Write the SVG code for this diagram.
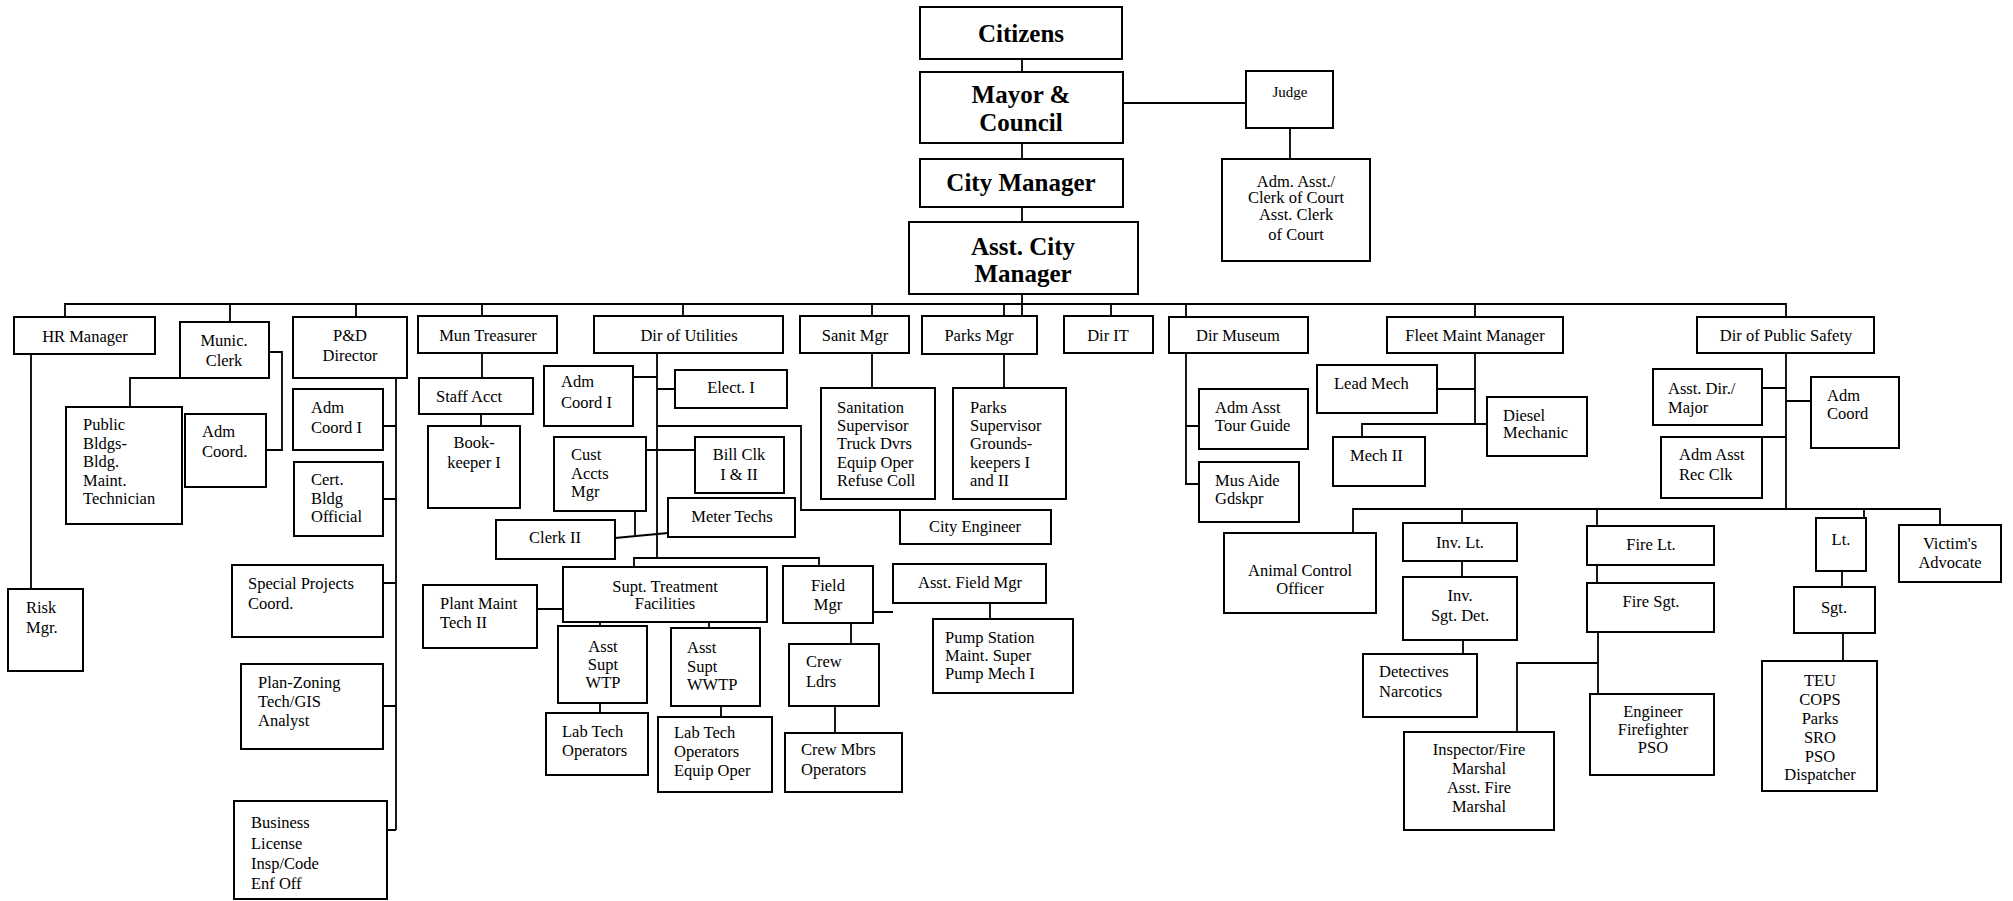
<svg xmlns="http://www.w3.org/2000/svg" width="2013" height="901" viewBox="0 0 2013 901">
<style>
rect{fill:#fff;stroke:#000;stroke-width:2}
text{font-family:"Liberation Serif","Times New Roman",serif;font-size:16.5px;fill:#000}
.c{text-anchor:middle}
.b{font-weight:bold;font-size:25px}
.s{font-size:15px}
#connectors path{fill:none;stroke:#000;stroke-width:1.8}
</style>
<rect x="0" y="0" width="2013" height="901" style="fill:#fff;stroke:none"/>
<g id="connectors">
<path d="M1022,59V72M1022,143V159M1022,207V222M1022,294V316M1123,103H1246M1290,128V159"/>
<path d="M65,317V304H1786V317M230,304V322M356,304V317M482,304V316M683,304V316M872,304V316M1004,304V316M1111,304V316M1186,304V317M1475,304V317"/>
<path d="M31,354V589M130,407V378H180M269,352H282V450H266"/>
<path d="M396,378V830M383,426H396M383,499H396M383,583H396M383,706H396M387,830H396"/>
<path d="M482,353V378M481,414V426"/>
<path d="M657,353V558M634,567V558H819V566M633,377H657M657,389H675M657,426H801V510H900M646,450H695M635,511V535M615,538L668,533"/>
<path d="M537,609H563M600,622V626M709,622V628M600,703V713M721,706V717"/>
<path d="M873,612H893M851,623V644M835,706V733M990,603V619"/>
<path d="M872,353V388M1004,354V388"/>
<path d="M1186,353V484H1199M1186,426H1199"/>
<path d="M1475,353V424M1437,389H1475M1362,437V424H1487"/>
<path d="M1786,353V509M1762,388H1786M1786,401H1811M1762,437H1786"/>
<path d="M1353,533V509H1940V525M1462,509V523M1597,509V526M1864,509V518"/>
<path d="M1462,561V577M1463,640V654M1597,565V583M1598,632V694M1598,663H1517V732"/>
<path d="M1842,571V587M1843,633V661"/>
</g>
<g id="citizens"><rect x="920" y="7" width="202" height="52"/><text class="c b" x="1021" y="42">Citizens</text></g>
<g id="mayor"><rect x="920" y="72" width="203" height="71"/><text class="c b" x="1021" y="103">Mayor &amp;</text><text class="c b" x="1021" y="131">Council</text></g>
<g id="citymanager"><rect x="920" y="159" width="203" height="48"/><text class="c b" x="1021" y="191">City Manager</text></g>
<g id="asstcitymanager"><rect x="909" y="222" width="229" height="72"/><text class="c b" x="1023" y="255">Asst. City</text><text class="c b" x="1023" y="282">Manager</text></g>
<g id="judge"><rect x="1246" y="71" width="87" height="57"/><text class="c s" x="1290" y="97">Judge</text></g>
<g id="clerkofcourt"><rect x="1222" y="159" width="148" height="102"/><text class="c" x="1296" y="187">Adm. Asst./</text><text class="c" x="1296" y="203">Clerk of Court</text><text class="c" x="1296" y="220">Asst. Clerk</text><text class="c" x="1296" y="240">of Court</text></g>
<g id="hr"><rect x="14" y="317" width="141" height="37"/><text class="c" x="85" y="342">HR Manager</text></g>
<g id="munic"><rect x="180" y="322" width="89" height="56"/><text class="c" x="224" y="346">Munic.</text><text class="c" x="224" y="366">Clerk</text></g>
<g id="pd"><rect x="293" y="317" width="114" height="61"/><text class="c" x="350" y="341">P&amp;D</text><text class="c" x="350" y="361">Director</text></g>
<g id="treasurer"><rect x="418" y="316" width="139" height="37"/><text class="c" x="488" y="341">Mun Treasurer</text></g>
<g id="utilities"><rect x="594" y="316" width="189" height="37"/><text class="c" x="689" y="341">Dir of Utilities</text></g>
<g id="sanit"><rect x="800" y="316" width="109" height="37"/><text class="c" x="855" y="341">Sanit Mgr</text></g>
<g id="parks"><rect x="922" y="316" width="115" height="38"/><text class="c" x="979" y="341">Parks Mgr</text></g>
<g id="dirit"><rect x="1064" y="316" width="89" height="37"/><text class="c" x="1108" y="341">Dir IT</text></g>
<g id="museum"><rect x="1169" y="317" width="139" height="36"/><text class="c" x="1238" y="341">Dir Museum</text></g>
<g id="fleet"><rect x="1387" y="317" width="176" height="36"/><text class="c" x="1475" y="341">Fleet Maint Manager</text></g>
<g id="publicsafety"><rect x="1697" y="317" width="177" height="36"/><text class="c" x="1786" y="341">Dir of Public Safety</text></g>
<g id="pubbldgs"><rect x="66" y="407" width="116" height="117"/><text x="83" y="430">Public</text><text x="83" y="449">Bldgs-</text><text x="83" y="467">Bldg.</text><text x="83" y="486">Maint.</text><text x="83" y="504">Technician</text></g>
<g id="municcoord"><rect x="185" y="414" width="81" height="73"/><text x="202" y="437">Adm</text><text x="202" y="457">Coord.</text></g>
<g id="pdcoord"><rect x="293" y="389" width="90" height="61"/><text x="311" y="413">Adm</text><text x="311" y="433">Coord I</text></g>
<g id="cert"><rect x="294" y="462" width="89" height="74"/><text x="311" y="485">Cert.</text><text x="311" y="504">Bldg</text><text x="311" y="522">Official</text></g>
<g id="special"><rect x="232" y="565" width="151" height="72"/><text x="248" y="589">Special Projects</text><text x="248" y="609">Coord.</text></g>
<g id="planzoning"><rect x="241" y="664" width="142" height="85"/><text x="258" y="688">Plan-Zoning</text><text x="258" y="707">Tech/GIS</text><text x="258" y="726">Analyst</text></g>
<g id="business"><rect x="234" y="801" width="153" height="98"/><text x="251" y="828">Business</text><text x="251" y="849">License</text><text x="251" y="869">Insp/Code</text><text x="251" y="889">Enf Off</text></g>
<g id="risk"><rect x="8" y="589" width="75" height="82"/><text x="26" y="613">Risk</text><text x="26" y="633">Mgr.</text></g>
<g id="staffacct"><rect x="419" y="378" width="114" height="36"/><text x="436" y="402">Staff Acct</text></g>
<g id="bookkeeper"><rect x="428" y="426" width="92" height="82"/><text class="c" x="474" y="448">Book-</text><text class="c" x="474" y="468">keeper I</text></g>
<g id="utilcoord"><rect x="544" y="366" width="89" height="60"/><text x="561" y="387">Adm</text><text x="561" y="408">Coord I</text></g>
<g id="elect"><rect x="675" y="370" width="112" height="38"/><text class="c" x="731" y="393">Elect. I</text></g>
<g id="custaccts"><rect x="554" y="437" width="92" height="74"/><text x="571" y="460">Cust</text><text x="571" y="479">Accts</text><text x="571" y="497">Mgr</text></g>
<g id="billclk"><rect x="695" y="437" width="89" height="56"/><text class="c" x="739" y="460">Bill Clk</text><text class="c" x="739" y="480">I &amp; II</text></g>
<g id="metertechs"><rect x="668" y="498" width="127" height="39"/><text class="c" x="732" y="522">Meter Techs</text></g>
<g id="clerk2"><rect x="496" y="520" width="119" height="39"/><text class="c" x="555" y="543">Clerk II</text></g>
<g id="cityengineer"><rect x="900" y="510" width="151" height="34"/><text class="c" x="975" y="532">City Engineer</text></g>
<g id="supttreatment"><rect x="563" y="567" width="204" height="55"/><text class="c" x="665" y="592">Supt. Treatment</text><text class="c" x="665" y="609">Facilities</text></g>
<g id="fieldmgr"><rect x="783" y="566" width="90" height="57"/><text class="c" x="828" y="591">Field</text><text class="c" x="828" y="610">Mgr</text></g>
<g id="plantmaint"><rect x="423" y="585" width="114" height="63"/><text x="440" y="609">Plant Maint</text><text x="440" y="628">Tech II</text></g>
<g id="wtp"><rect x="558" y="626" width="89" height="77"/><text class="c" x="603" y="652">Asst</text><text class="c" x="603" y="670">Supt</text><text class="c" x="603" y="688">WTP</text></g>
<g id="wwtp"><rect x="671" y="628" width="89" height="78"/><text x="687" y="653">Asst</text><text x="687" y="672">Supt</text><text x="687" y="690">WWTP</text></g>
<g id="labtech1"><rect x="546" y="713" width="102" height="62"/><text x="562" y="737">Lab Tech</text><text x="562" y="756">Operators</text></g>
<g id="labtech2"><rect x="658" y="717" width="114" height="75"/><text x="674" y="738">Lab Tech</text><text x="674" y="757">Operators</text><text x="674" y="776">Equip Oper</text></g>
<g id="crewldrs"><rect x="789" y="644" width="90" height="62"/><text x="806" y="667">Crew</text><text x="806" y="687">Ldrs</text></g>
<g id="crewmbrs"><rect x="785" y="733" width="117" height="59"/><text x="801" y="755">Crew Mbrs</text><text x="801" y="775">Operators</text></g>
<g id="asstfieldmgr"><rect x="893" y="564" width="153" height="39"/><text class="c" x="970" y="588">Asst. Field Mgr</text></g>
<g id="pumpstation"><rect x="933" y="619" width="140" height="74"/><text x="945" y="643">Pump Station</text><text x="945" y="661">Maint. Super</text><text x="945" y="679">Pump Mech I</text></g>
<g id="sanitation"><rect x="821" y="388" width="114" height="111"/><text x="837" y="413">Sanitation</text><text x="837" y="431">Supervisor</text><text x="837" y="449">Truck Dvrs</text><text x="837" y="468">Equip Oper</text><text x="837" y="486">Refuse Coll</text></g>
<g id="parkssup"><rect x="953" y="388" width="113" height="111"/><text x="970" y="413">Parks</text><text x="970" y="431">Supervisor</text><text x="970" y="449">Grounds-</text><text x="970" y="468">keepers I</text><text x="970" y="486">and II</text></g>
<g id="admtour"><rect x="1199" y="389" width="109" height="60"/><text x="1215" y="413">Adm Asst</text><text x="1215" y="431">Tour Guide</text></g>
<g id="musaide"><rect x="1199" y="462" width="100" height="60"/><text x="1215" y="486">Mus Aide</text><text x="1215" y="504">Gdskpr</text></g>
<g id="leadmech"><rect x="1317" y="365" width="120" height="48"/><text x="1334" y="389">Lead Mech</text></g>
<g id="diesel"><rect x="1487" y="397" width="100" height="59"/><text x="1503" y="421">Diesel</text><text x="1503" y="438">Mechanic</text></g>
<g id="mech2"><rect x="1333" y="437" width="92" height="49"/><text x="1350" y="461">Mech II</text></g>
<g id="asstdir"><rect x="1653" y="369" width="109" height="56"/><text x="1668" y="394">Asst. Dir./</text><text x="1668" y="413">Major</text></g>
<g id="admcoordps"><rect x="1811" y="377" width="88" height="71"/><text x="1827" y="401">Adm</text><text x="1827" y="419">Coord</text></g>
<g id="admasstrec"><rect x="1661" y="437" width="101" height="61"/><text x="1679" y="460">Adm Asst</text><text x="1679" y="480">Rec Clk</text></g>
<g id="animal"><rect x="1224" y="533" width="152" height="80"/><text class="c" x="1300" y="576">Animal Control</text><text class="c" x="1300" y="594">Officer</text></g>
<g id="invlt"><rect x="1403" y="523" width="114" height="38"/><text class="c" x="1460" y="548">Inv. Lt.</text></g>
<g id="invsgt"><rect x="1403" y="577" width="114" height="63"/><text class="c" x="1460" y="601">Inv.</text><text class="c" x="1460" y="621">Sgt. Det.</text></g>
<g id="detectives"><rect x="1363" y="654" width="114" height="63"/><text x="1379" y="677">Detectives</text><text x="1379" y="697">Narcotics</text></g>
<g id="firelt"><rect x="1587" y="526" width="127" height="39"/><text class="c" x="1651" y="550">Fire Lt.</text></g>
<g id="firesgt"><rect x="1587" y="583" width="127" height="49"/><text class="c" x="1651" y="607">Fire Sgt.</text></g>
<g id="inspector"><rect x="1404" y="732" width="150" height="98"/><text class="c" x="1479" y="755">Inspector/Fire</text><text class="c" x="1479" y="774">Marshal</text><text class="c" x="1479" y="793">Asst. Fire</text><text class="c" x="1479" y="812">Marshal</text></g>
<g id="engineer"><rect x="1590" y="694" width="124" height="81"/><text class="c" x="1653" y="717">Engineer</text><text class="c" x="1653" y="735">Firefighter</text><text class="c" x="1653" y="753">PSO</text></g>
<g id="lt"><rect x="1816" y="518" width="50" height="53"/><text class="c" x="1841" y="545">Lt.</text></g>
<g id="victims"><rect x="1899" y="525" width="102" height="57"/><text class="c" x="1950" y="549">Victim's</text><text class="c" x="1950" y="568">Advocate</text></g>
<g id="sgt"><rect x="1794" y="587" width="81" height="46"/><text class="c" x="1834" y="613">Sgt.</text></g>
<g id="teu"><rect x="1762" y="661" width="115" height="130"/><text class="c" x="1820" y="686">TEU</text><text class="c" x="1820" y="705">COPS</text><text class="c" x="1820" y="724">Parks</text><text class="c" x="1820" y="743">SRO</text><text class="c" x="1820" y="762">PSO</text><text class="c" x="1820" y="780">Dispatcher</text></g>
</svg>
